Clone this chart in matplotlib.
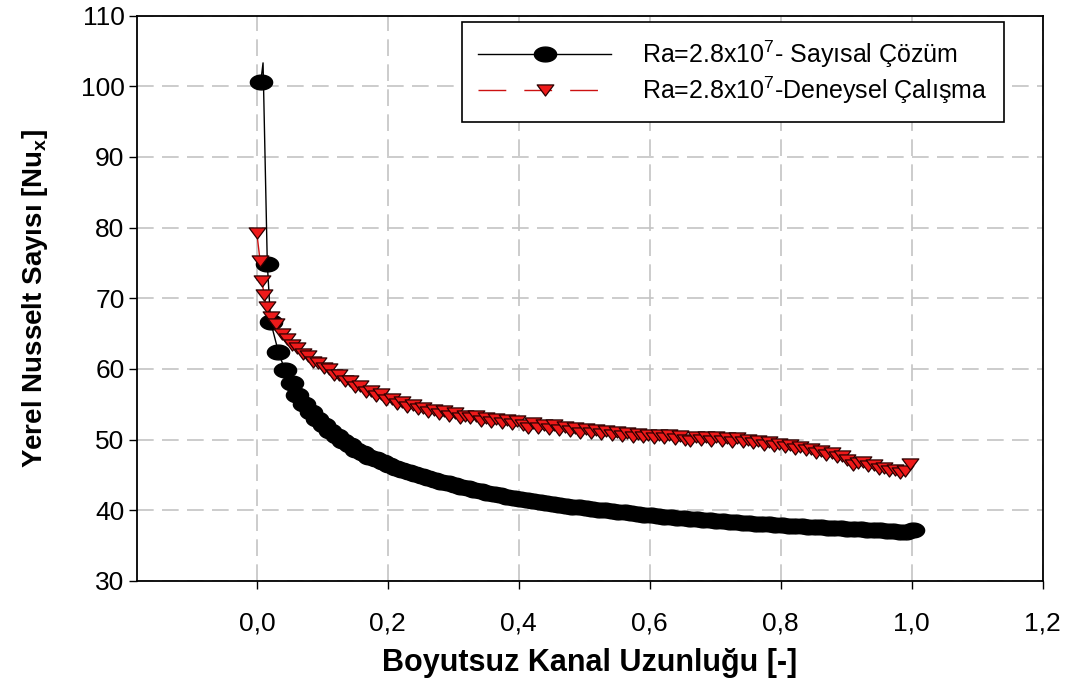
import numpy as np
import matplotlib
matplotlib.use("Agg")
import matplotlib.pyplot as plt
from matplotlib.path import Path
from matplotlib.ticker import FuncFormatter

plt.rcParams['font.family'] = ['Liberation Sans', 'DejaVu Sans']
plt.rcParams['mathtext.fontset'] = 'custom'
plt.rcParams['mathtext.rm'] = 'Liberation Sans'
plt.rcParams['mathtext.bf'] = 'Liberation Sans:bold'

# Sayisal cozum (numerical solution), Ra = 2.8e7
num_x_head = [0.006, 0.0095, 0.016, 0.021, 0.033, 0.043, 0.053, 0.062, 0.072, 0.082]
num_nu_head = [100.6, 103.3, 74.9, 66.7, 62.4, 59.8, 58.0, 56.3, 55.1, 53.9]
# tail sampled every 0.01 starting at x = 0.092
num_nu_tail = [52.9, 52.0, 51.2, 50.5, 49.8, 49.2, 48.6, 48.1, 47.6, 47.2,
               46.8, 46.4, 46.0, 45.7, 45.4, 45.1, 44.8, 44.5, 44.3, 44.0,
               43.8, 43.6, 43.3, 43.1, 42.9, 42.7, 42.5, 42.3, 42.1, 41.9,
               41.8, 41.6, 41.5, 41.3, 41.2, 41.0, 40.9, 40.8, 40.6, 40.5,
               40.4, 40.3, 40.2, 40.1, 40.0, 39.9, 39.8, 39.7, 39.6, 39.5,
               39.4, 39.3, 39.2, 39.1, 39.0, 38.95, 38.9, 38.8, 38.7, 38.65,
               38.6, 38.5, 38.45, 38.4, 38.3, 38.25, 38.2, 38.1, 38.05, 38.0,
               37.95, 37.9, 37.85, 37.8, 37.75, 37.7, 37.65, 37.6, 37.55, 37.5,
               37.45, 37.4, 37.35, 37.3, 37.25, 37.2, 37.15, 37.1, 37.05, 37.0,
               36.95, 37.2]

# Deneysel calisma (experiment), Ra = 2.8e7
exp_x_head = [0.000, 0.005, 0.008, 0.011, 0.015]
exp_nu_head = [79.2, 75.3, 72.4, 70.5, 68.7]
# tail sampled every 0.008 starting at x = 0.022
exp_nu_tail = [67.3, 66.4, 65.0, 64.3, 63.4, 63.0, 62.1, 61.9, 61.0, 60.9,
               60.1, 60.0, 59.2, 59.2, 58.3, 58.3, 57.5, 57.6, 56.8, 56.9,
               56.2, 56.4, 55.6, 55.7, 55.1, 55.3, 54.6, 54.9, 54.3, 54.5,
               53.9, 54.2, 53.6, 54.0, 53.4, 53.8, 53.1, 53.4, 53.0, 53.3,
               52.7, 53.1, 52.5, 52.9, 52.3, 52.8, 52.2, 52.6, 52.1, 51.6,
               52.3, 51.7, 52.1, 51.5, 52.0, 51.4, 51.8, 51.2, 51.7, 51.0,
               51.5, 50.9, 51.3, 50.8, 51.2, 50.6, 51.1, 50.5, 51.0, 50.4,
               50.8, 50.3, 50.7, 50.2, 50.7, 50.2, 50.6, 50.1, 50.5, 50.0,
               49.8, 50.4, 49.9, 50.3, 49.8, 50.3, 49.8, 50.2, 49.7, 50.2,
               49.7, 50.0, 49.5, 49.8, 49.3, 49.6, 49.1, 49.4, 48.9, 49.2,
               48.7, 49.0, 48.5, 48.7, 48.1, 48.4, 47.8, 48.1, 47.5, 47.7,
               47.1, 46.4, 46.7, 46.8, 46.2, 46.4, 45.8, 46.0, 45.5, 45.7,
               45.3, 45.5, 46.6]

num_x = np.concatenate([num_x_head, 0.092 + 0.01 * np.arange(len(num_nu_tail))])
num_nu = np.concatenate([num_nu_head, num_nu_tail])
exp_x = np.concatenate([exp_x_head, 0.022 + 0.008 * np.arange(len(exp_nu_tail))])
exp_nu = np.concatenate([exp_nu_head, exp_nu_tail])

x_ticks = [0.0, 0.2, 0.4, 0.6, 0.8, 1.0, 1.2]
y_ticks = [30, 40, 50, 60, 70, 80, 90, 100, 110]

# wide ellipse and flat down-triangle markers
t = np.linspace(0, 2 * np.pi, 41)
ellipse = Path(np.column_stack([np.cos(t), np.sin(t) / 1.5]), closed=True)
tri_down = Path([(-1, 2 / 3), (1, 2 / 3), (0, -2 / 3), (-1, 2 / 3)], closed=True)

fig = plt.figure(figsize=(10.67, 6.8), dpi=100)
ax = fig.add_axes([0.1284, 0.1456, 0.8487, 0.8316])

ax.plot(num_x, num_nu, color='black', lw=1.0, marker=ellipse, ms=16,
        mfc='black', mec='black', markevery=[i for i in range(len(num_x)) if i != 1],
        label='Ra=2.8x10$^\\mathregular{7}$- Sayısal Çözüm', zorder=3)
ax.plot(exp_x, exp_nu, color='#cc1111', lw=1.0, dashes=(20, 13), marker=tri_down,
        ms=12, mfc='#ee1a1a', mec='#2a0000', mew=0.9,
        label='Ra=2.8x10$^\\mathregular{7}$-Deneysel Çalışma', zorder=4)

ax.set_xlim(-0.183, 1.2)
ax.set_ylim(30, 110)
ax.set_xticks(x_ticks)
ax.set_yticks(y_ticks)
ax.xaxis.set_major_formatter(FuncFormatter(lambda v, p: f'{v:.1f}'.replace('.', ',')))
ax.tick_params(axis='both', direction='out', length=6, width=1.0, labelsize=19)
ax.tick_params(axis='x', pad=16)
ax.tick_params(axis='y', pad=3)

ax.grid(True, color='#c4c4c4', linestyle=(0, (10, 5)), lw=1.2)
ax.set_axisbelow(True)
for s in ax.spines.values():
    s.set_linewidth(1.3)

ax.set_xlabel('Boyutsuz Kanal Uzunluğu [-]', fontsize=22, fontweight='bold', labelpad=9)
ax.set_ylabel('Yerel Nusselt Sayısı [Nu$_\\mathbf{x}$]', fontsize=20, fontweight='bold', labelpad=22)

leg = ax.legend(loc='upper left', bbox_to_anchor=(462 / 1067, 1 - 22 / 680),
                bbox_transform=fig.transFigure, borderaxespad=0, fontsize=18,
                handlelength=5.3, handletextpad=1.25, borderpad=0.65, labelspacing=0.2,
                fancybox=False, framealpha=1, edgecolor='black', numpoints=1)
leg.get_frame().set_linewidth(1.2)

fig.savefig('out.png', dpi=100)
